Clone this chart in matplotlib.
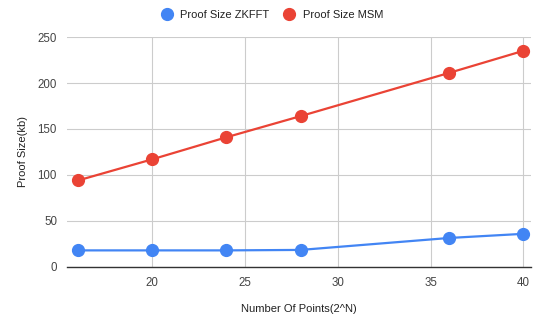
import matplotlib
matplotlib.use("Agg")
import matplotlib.pyplot as plt

plt.rcParams['font.family'] = ['Liberation Sans', 'DejaVu Sans']

# data
points = [16, 20, 24, 28, 36, 40]
zkfft = [18, 18, 18, 18.5, 31.5, 36]
msm = [94, 117, 141, 164, 211, 235]
xticks = [20, 25, 30, 35, 40]
yticks = [0, 50, 100, 150, 200, 250]

BLUE = "#4285F4"
RED = "#EA4335"
TXT = "#444444"

fig = plt.figure(figsize=(5.34, 3.22), dpi=100)
ax = fig.add_axes([0.125, 0.171, 0.869, 0.714])

ax.plot(points, zkfft, color=BLUE, lw=1.6, marker='o', ms=8.5,
        label="Proof Size ZKFFT", zorder=3)
ax.plot(points, msm, color=RED, lw=1.6, marker='o', ms=8.5,
        label="Proof Size MSM", zorder=3)

ax.set_xlim(15.4, 40.4)
ax.set_ylim(0, 250)
ax.set_xticks(xticks)
ax.set_yticks(yticks)
ax.grid(True, color="#cccccc", lw=0.8)
ax.set_axisbelow(True)
for s in ["top", "right", "left"]:
    ax.spines[s].set_visible(False)
ax.spines["bottom"].set_color("#333333")
ax.spines["bottom"].set_linewidth(1.0)
ax.tick_params(length=0, labelsize=8.3, colors=TXT, pad=7)

ax.set_xlabel("Number Of Points(2^N)", fontsize=8, color="#222222", labelpad=11)
ax.set_ylabel("Proof Size(kb)", fontsize=8, color="#222222", labelpad=7)

fig.legend(loc="upper center", bbox_to_anchor=(0.51, 1.0), ncol=2, frameon=False,
           fontsize=8, handlelength=1.0, handletextpad=0.7, columnspacing=1.3,
           labelcolor="#222222")
for h in fig.legends[0].legend_handles:
    h.set_linestyle("none")

fig.savefig("out.png", dpi=100)
